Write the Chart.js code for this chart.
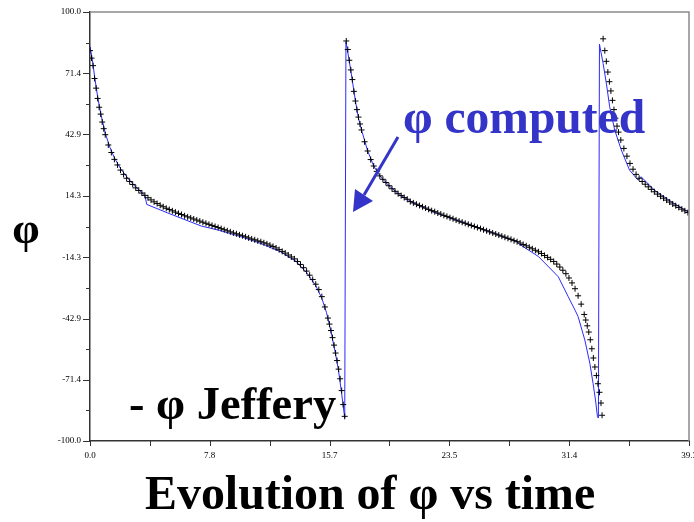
<!DOCTYPE html>
<html>
<head>
<meta charset="utf-8">
<script src="https://cdn.jsdelivr.net/npm/chart.js@4/dist/chart.umd.min.js"></script>
<style>
  html, body { margin: 0; padding: 0; background: #fff; }
  #wrap { width: 694px; height: 522px; }
</style>
</head>
<body>
<div id="wrap"><canvas id="phiChart" width="694" height="522"></canvas></div>
<script>
// phi (Jeffery orbit): time, angle
const jefferyTime = [
  0, 0.1, 0.2, 0.3, 0.4, 0.5, 0.6, 0.7, 0.8, 0.9, 1.0, 1.2, 1.4, 1.6, 1.8, 2.0, 2.2, 2.4, 2.6, 2.8,
  3.0, 3.2, 3.4, 3.6, 3.8, 4.0, 4.2, 4.4, 4.6, 4.8, 5.0, 5.2, 5.4, 5.6, 5.8, 6.0, 6.2, 6.4, 6.6, 6.8,
  7.0, 7.2, 7.4, 7.6, 7.8, 8.0, 8.2, 8.4, 8.6, 8.8, 9.0, 9.2, 9.4, 9.6, 9.8, 10.0, 10.2, 10.4, 10.6, 10.8,
  11.0, 11.2, 11.4, 11.6, 11.8, 12.0, 12.2, 12.4, 12.6, 12.8, 13.0, 13.2, 13.4, 13.6, 13.8, 14.0, 14.2, 14.4, 14.6, 14.8,
  15.0, 15.2, 15.4, 15.6, 15.7, 15.8, 15.9, 16.0, 16.1, 16.2, 16.3, 16.4, 16.5, 16.6, 16.7,
  16.8, 16.9, 17.0, 17.1, 17.2, 17.3, 17.4, 17.5, 17.6, 17.7, 17.8, 18.0, 18.2, 18.4, 18.6, 18.8,
  19.0, 19.2, 19.4, 19.6, 19.8, 20.0, 20.2, 20.4, 20.6, 20.8, 21.0, 21.2, 21.4, 21.6, 21.8, 22.0, 22.2, 22.4, 22.6, 22.8,
  23.0, 23.2, 23.4, 23.6, 23.8, 24.0, 24.2, 24.4, 24.6, 24.8, 25.0, 25.2, 25.4, 25.6, 25.8, 26.0, 26.2, 26.4, 26.6, 26.8,
  27.0, 27.2, 27.4, 27.6, 27.8, 28.0, 28.2, 28.4, 28.6, 28.8, 29.0, 29.2, 29.4, 29.6, 29.8, 30.0, 30.2, 30.4, 30.6, 30.8,
  31.0, 31.2, 31.4, 31.6, 31.8, 32.0, 32.2, 32.4, 32.5, 32.6, 32.7, 32.8, 32.9, 33.0, 33.1, 33.2, 33.3, 33.4, 33.5, 33.57,
  33.64, 33.75, 33.85, 33.95, 34.05, 34.15, 34.25, 34.35, 34.45, 34.55, 34.65, 34.8, 35.0, 35.2, 35.4, 35.6, 35.8,
  36.0, 36.2, 36.4, 36.6, 36.8, 37.0, 37.2, 37.4, 37.6, 37.8, 38.0, 38.2, 38.4, 38.6, 38.8, 39.0, 39.2
];
const jefferyPhi = [
  82, 78.5, 75, 69, 64.5, 59.7, 55.6, 52.4, 48.7, 45.6, 42.8, 38, 34.5, 31.3, 28.7, 26.3, 24.3, 22.5, 21, 19.6,
  18, 16.8, 15.6, 14.5, 13.4, 12.4, 11.5, 10.7, 9.9, 9.2, 8.5, 7.9, 7.3, 6.7, 6.1, 5.6, 5.0, 4.5, 4.0, 3.5,
  3.0, 2.5, 2.0, 1.5, 1.0, 0.5, 0.0, -0.5, -1.0, -1.5, -2.0, -2.5, -3.0, -3.4, -3.9, -4.3, -4.8, -5.3, -5.8, -6.2,
  -6.7, -7.1, -7.6, -8.1, -8.7, -9.3, -10.0, -10.8, -11.6, -12.4, -13.3, -14.2, -15.1, -16.3, -17.7, -19.2, -20.8, -22.7, -24.7, -26.9,
  -29.4, -32.7, -37.5, -42.7, -45.5, -48.5, -51.8, -55.3, -59, -62.5, -66.5, -71, -76.5, -83, -88.5,
  86.5, 82.5, 77.5, 73, 68.5, 63, 58.5, 54.5, 51, 47.8, 45, 39.5, 35.2, 31.2, 28.2, 25.7,
  23.6, 22.0, 20.5, 19.0, 17.6, 16.4, 15.3, 14.4, 13.5, 12.7, 11.6, 11.0, 10.4, 9.8, 9.2, 8.6, 8.0, 7.4, 6.9, 6.3,
  5.8, 5.2, 4.7, 4.1, 3.6, 3.0, 2.5, 2.0, 1.5, 1.0, 0.5, 0.0, -0.5, -1.0, -1.5, -2.0, -2.5, -3.0, -3.5, -4.0,
  -4.5, -5.0, -5.5, -6.0, -6.6, -7.1, -7.7, -8.4, -9.0, -9.7, -10.4, -11.1, -11.8, -12.6, -13.5, -14.4, -15.3, -16.3, -17.5, -18.9,
  -20.4, -22.0, -24.0, -26.3, -29.0, -32.3, -36.2, -41, -43.6, -46.3, -49.2, -52.8, -57, -61.3, -65.5, -69.5, -73.3, -77.3, -82.3, -88,
  87.5, 82, 77, 72, 67.5, 63.2, 58.8, 54.5, 50.5, 46.8, 44, 40.3, 36.4, 32.8, 29.4, 26.7, 24.3,
  22.5, 21.0, 19.7, 18.5, 17.3, 16.2, 15.1, 14.1, 13.2, 12.3, 11.4, 10.5, 9.7, 8.9, 8.1, 7.3, 6.5
];

// phi computed (blue polyline)
const computedTime = [
  0, 0.15, 0.3, 0.5, 0.7, 1.0, 1.3, 1.6, 2.0, 2.5, 3.0, 3.6, 3.72, 5.1, 7.3, 8.5, 10.0, 11.0, 11.5, 12.5,
  13.5, 14.2, 14.8, 15.2, 15.5, 15.8, 16.1, 16.3, 16.5, 16.7, 16.78,
  17.0, 17.2, 17.4, 17.6, 17.8, 18.2, 18.6, 19.0, 19.6, 20.3, 21.2, 22.5, 24.0, 25.5, 27.0, 28.0, 28.1,
  29.4, 30.7, 31.35, 31.8, 32.0, 32.44, 32.77, 32.98, 33.14, 33.27, 33.33, 33.4,
  33.64, 33.85, 34.07, 34.4, 34.83, 35.37, 35.92, 36.13, 37.0, 38.1, 39.2
];
const computedPhi = [
  84, 78, 70, 60.5, 52.8, 43.5, 37, 32, 27, 22.3, 18.4, 14.5, 10.3, 6.3, 0.2, -1.8, -5, -7.4, -8.8, -11.8,
  -16.2, -21.5, -27.5, -33.5, -40, -49, -59.5, -67.5, -78, -89.3, 86.2,
  77, 68, 58.5, 50.5, 45, 35.3, 28.2, 23.6, 19, 14.8, 11, 6.8, 3.0, -0.7, -4.5, -7.0, -8.0,
  -14, -23.4, -32.7, -39, -42, -52.9, -63.8, -73.1, -80.9, -88.7, -89.3, 85,
  76, 66.8, 55.8, 45, 35.7, 26.3, 21.7, 23.2, 17, 11.6, 6.9
];

const xTicks = [0, 3.93, 7.85, 11.78, 15.71, 19.63, 23.56, 27.49, 31.42, 35.34, 39.27];
const xTickLabels = ['0.0', '', '7.8', '', '15.7', '', '23.5', '', '31.4', '', '39.3'];
const yTicks = [-100, -85.7, -71.4, -57.1, -42.9, -28.6, -14.3, 0, 14.3, 28.6, 42.9, 57.1, 71.4, 85.7, 100];
const yTickLabels = ['-100.0', '', '-71.4', '', '-42.9', '', '-14.3', '', '14.3', '', '42.9', '', '71.4', '', '100.0'];

const BLUE_TEXT = '#3434c8';
const SERIF = '"Liberation Serif", "Times New Roman", serif';

// draw text so that it spans a given width
function fitText(ctx, text, left, baseline, width, color) {
    ctx.font = 'bold 40px ' + SERIF;
    const size = 40 * width / ctx.measureText(text).width;
    ctx.font = 'bold ' + size.toFixed(1) + 'px ' + SERIF;
    ctx.fillStyle = color;
    ctx.textAlign = 'left';
    ctx.textBaseline = 'alphabetic';
    ctx.fillText(text, left, baseline);
}

const decorations = {
    id: 'decorations',
    afterDraw(chart) {
        const ctx = chart.ctx;
        const area = chart.chartArea;
        const xs = chart.scales.x;
        const ys = chart.scales.y;
        ctx.save();

        // frame top / right
        ctx.strokeStyle = '#8a8a8a';
        ctx.lineWidth = 1.5;
        ctx.beginPath();
        ctx.moveTo(area.left, area.top);
        ctx.lineTo(area.right, area.top);
        ctx.lineTo(area.right, area.bottom);
        ctx.stroke();

        // tick marks
        ctx.strokeStyle = '#333';
        ctx.lineWidth = 1;
        ctx.beginPath();
        yTicks.forEach((v, i) => {
            const py = Math.round(ys.getPixelForValue(v)) + 0.5;
            const len = yTickLabels[i] ? 7 : 4;
            ctx.moveTo(area.left - len, py);
            ctx.lineTo(area.left, py);
        });
        xTicks.forEach((v, i) => {
            const px = Math.round(xs.getPixelForValue(v)) + 0.5;
            ctx.moveTo(px, area.bottom);
            ctx.lineTo(px, area.bottom + 5);
        });
        ctx.stroke();

        // texts
        ctx.font = 'bold 44px ' + SERIF;
        ctx.fillStyle = '#000';
        ctx.textAlign = 'center';
        ctx.textBaseline = 'alphabetic';
        ctx.fillText('φ', 26, 243);

        fitText(ctx, 'φ computed', 403, 133, 242, BLUE_TEXT);
        fitText(ctx, '- φ Jeffery', 129, 419, 207, '#000');
        fitText(ctx, 'Evolution of φ vs time', 145, 509, 450, '#000');

        // arrow
        ctx.strokeStyle = BLUE_TEXT;
        ctx.fillStyle = BLUE_TEXT;
        ctx.lineWidth = 3;
        ctx.beginPath();
        ctx.moveTo(398, 137);
        ctx.lineTo(364, 195);
        ctx.stroke();
        ctx.beginPath();
        ctx.moveTo(353, 212);
        ctx.lineTo(355, 189);
        ctx.lineTo(373, 201);
        ctx.closePath();
        ctx.fill();

        ctx.restore();
    }
};

const ctx = document.getElementById('phiChart').getContext('2d');
new Chart(ctx, {
    type: 'scatter',
    data: {
        datasets: [
            {
                label: 'phi Jeffery',
                data: jefferyTime.map((t, i) => ({ x: t, y: jefferyPhi[i] })),
                pointStyle: 'cross',
                pointRadius: 3,
                borderColor: '#000',
                backgroundColor: '#000',
                borderWidth: 1,
                showLine: false
            },
            {
                label: 'phi computed',
                data: computedTime.map((t, i) => ({ x: t, y: computedPhi[i] })),
                showLine: true,
                borderColor: '#2a2aff',
                borderWidth: 1,
                pointRadius: 0,
                tension: 0
            }
        ]
    },
    options: {
        responsive: false,
        animation: false,
        layout: { padding: { top: 12, right: 1, left: 0, bottom: 0 } },
        plugins: {
            legend: { display: false },
            tooltip: { enabled: false }
        },
        scales: {
            x: {
                type: 'linear',
                min: 0,
                max: 39.27,
                afterBuildTicks: scale => { scale.ticks = xTicks.map(v => ({ value: v })); },
                afterFit: scale => { scale.height = 81; scale.paddingLeft = 0; scale.paddingRight = 0; },
                grid: { drawOnChartArea: false, drawTicks: false },
                border: { display: true, color: '#333', width: 1.5 },
                ticks: {
                    autoSkip: false,
                    maxRotation: 0,
                    padding: 9,
                    color: '#000',
                    font: { family: '"Liberation Serif", serif', size: 9 },
                    callback: (v, i) => xTickLabels[i]
                }
            },
            y: {
                type: 'linear',
                min: -100,
                max: 100,
                afterBuildTicks: scale => { scale.ticks = yTicks.map(v => ({ value: v })); },
                afterFit: scale => { scale.width = 90; scale.paddingTop = 0; scale.paddingBottom = 0; },
                grid: { drawOnChartArea: false, drawTicks: false },
                border: { display: true, color: '#333', width: 1.5 },
                ticks: {
                    autoSkip: false,
                    padding: 9,
                    color: '#000',
                    font: { family: '"Liberation Serif", serif', size: 9 },
                    callback: (v, i) => yTickLabels[i]
                }
            }
        }
    },
    plugins: [decorations]
});
</script>
</body>
</html>
